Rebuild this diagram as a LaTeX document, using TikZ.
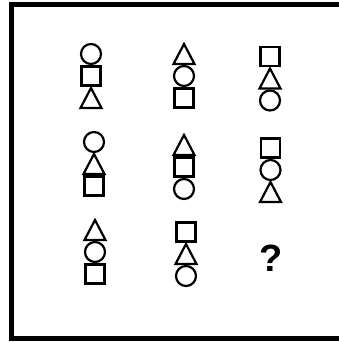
\documentclass[tikz,border=0pt]{standalone}
\usepackage{fontspec}
\newfontfamily\qfont{Liberation Sans}
\usetikzlibrary{positioning}

% one column of three shapes, x centre and top edge in pixels
\newcommand{\figstack}[5]{%
  \pic at (#1,{#2+11}) {#3};
  \pic at (#1,{#2+33}) {#4};
  \pic at (#1,{#2+55}) {#5};
}

\begin{document}
\begin{tikzpicture}[
  x=1pt,y=-1pt,
  shp/.style={draw=black,line width=2.2pt,line join=miter},
  frame/.style={draw=black,line width=5pt},
  circ/.pic={\draw[shp] (0,0) circle[radius=10];},
  sq/.pic={\draw[shp] (-9.5,-9.5) rectangle (9.5,9.5);},
  tri/.pic={\draw[shp] (0,-10) -- (10.5,10) -- (-10.5,10) -- cycle;}
]
\useasboundingbox (0,0) rectangle (338,342);
\draw[frame] (11,4.5) rectangle (352,338.5);

% first row
\figstack{91}{43}{circ}{sq}{tri}
\figstack{184}{43}{tri}{circ}{sq}
\figstack{270}{45.5}{sq}{tri}{circ}
% second row
\figstack{94}{131}{circ}{tri}{sq}
\figstack{184}{134}{tri}{sq}{circ}
\figstack{270.5}{137}{sq}{circ}{tri}
% third row
\figstack{95}{219}{tri}{circ}{sq}
\figstack{186}{221}{sq}{tri}{circ}

\node[inner sep=0pt,font=\qfont\bfseries\fontsize{38}{38}\selectfont] (ask) at (271.5,258.5) {?};
\end{tikzpicture}
\end{document}
